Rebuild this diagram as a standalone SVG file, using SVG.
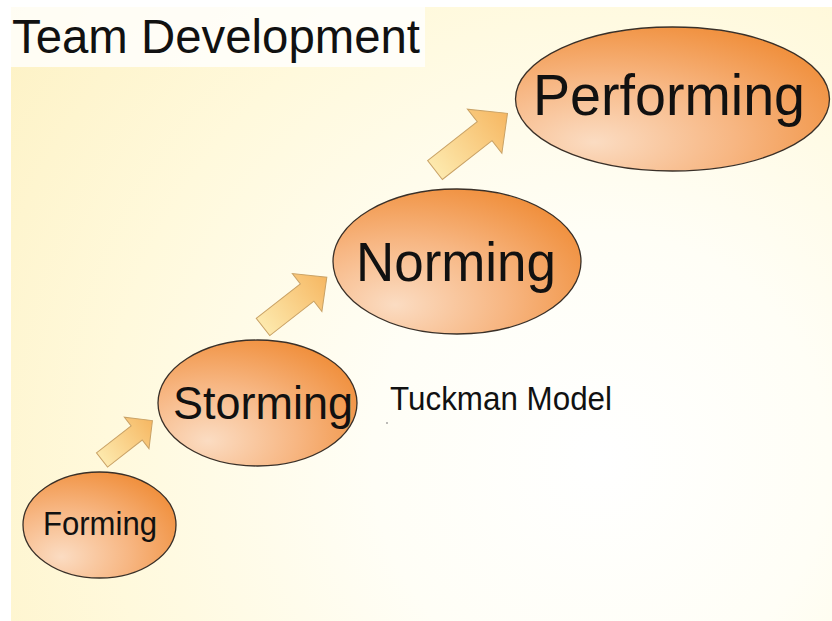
<svg xmlns="http://www.w3.org/2000/svg" width="832" height="621" viewBox="0 0 832 621">
  <defs>
    <radialGradient id="bg" gradientUnits="userSpaceOnUse" cx="600" cy="460" r="760">
      <stop offset="0" stop-color="#ffffff"/>
      <stop offset="0.3" stop-color="#fffef6"/>
      <stop offset="0.65" stop-color="#fff9dc"/>
      <stop offset="1" stop-color="#fdf1c2"/>
    </radialGradient>
    <radialGradient id="stage" cx="0.3" cy="0.75" r="0.95" fx="0.25" fy="0.8">
      <stop offset="0" stop-color="#fbdcc2"/>
      <stop offset="0.45" stop-color="#f7b682"/>
      <stop offset="1" stop-color="#ee8428"/>
    </radialGradient>
    <linearGradient id="step" x1="0" y1="0" x2="1" y2="0">
      <stop offset="0" stop-color="#fde9ad"/>
      <stop offset="1" stop-color="#f6b762"/>
    </linearGradient>
  </defs>
  <style>
    .stage { fill: url(#stage); stroke: #3a3028; stroke-width: 1.3; }
    .step { fill: url(#step); stroke: #c9a266; stroke-width: 1; stroke-linejoin: miter; }
    .label { font-family: "Liberation Sans", Arial, sans-serif; fill: #111; text-anchor: middle; }
    .plain { font-family: "Liberation Sans", Arial, sans-serif; fill: #111; }
  </style>

  <!-- page and slide background -->
  <rect x="0" y="0" width="832" height="621" fill="#ffffff"/>
  <rect x="11" y="7" width="821" height="614" fill="url(#bg)"/>
  <rect x="11" y="7" width="414" height="60" fill="#ffffff" opacity="0.8"/>

  <text class="plain" x="12" y="53" font-size="48" textLength="408" lengthAdjust="spacingAndGlyphs">Team Development</text>

  <!-- connectors: block arrows between stages -->
  <g id="connectors">
    <path class="step" transform="translate(102,460) rotate(-38)" d="M0,-9 L44,-9 L44,-20 L64,0 L44,20 L44,9 L0,9 Z"/>
    <path class="step" transform="translate(263,327) rotate(-38)" d="M0,-11 L56,-11 L56,-24 L81,0 L56,24 L56,11 L0,11 Z"/>
    <path class="step" transform="translate(435,170) rotate(-38)" d="M0,-12 L63,-12 L63,-28 L92,0 L63,28 L63,12 L0,12 Z"/>
  </g>

  <g id="forming">
    <ellipse class="stage" cx="99.5" cy="525" rx="76.5" ry="53"/>
    <text class="label" x="100" y="535" font-size="34" textLength="114" lengthAdjust="spacingAndGlyphs">Forming</text>
  </g>

  <g id="storming">
    <ellipse class="stage" cx="257.5" cy="403" rx="99.5" ry="63"/>
    <text class="label" x="263" y="419" font-size="47" textLength="180" lengthAdjust="spacingAndGlyphs">Storming</text>
  </g>

  <g id="norming">
    <ellipse class="stage" cx="457" cy="261.5" rx="124" ry="72.5"/>
    <text class="label" x="456" y="281" font-size="56" textLength="200" lengthAdjust="spacingAndGlyphs">Norming</text>
  </g>

  <g id="performing">
    <ellipse class="stage" cx="672.5" cy="99" rx="157" ry="72"/>
    <text class="label" x="669" y="115" font-size="58" textLength="272" lengthAdjust="spacingAndGlyphs">Performing</text>
  </g>

  <g id="caption">
    <text class="plain" x="390" y="410" font-size="33" textLength="222" lengthAdjust="spacingAndGlyphs">Tuckman Model</text>
    <circle cx="387" cy="423" r="0.8" fill="#666"/>
  </g>
</svg>
